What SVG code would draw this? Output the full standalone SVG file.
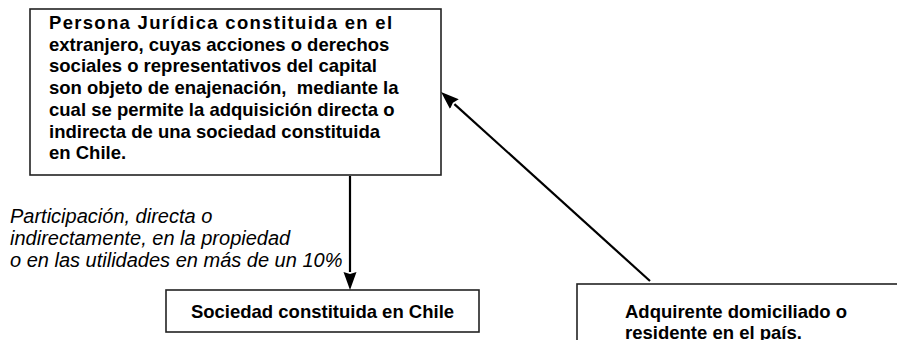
<svg xmlns="http://www.w3.org/2000/svg" width="897" height="340" viewBox="0 0 897 340">
<style>
  .box { fill: #ffffff; stroke: #222222; stroke-width: 1.6; }
  .bt { font-family: "Liberation Sans", Arial, sans-serif; font-size: 18.5px; font-weight: bold; fill: #000000; }
  .it { font-family: "Liberation Sans", Arial, sans-serif; font-size: 20px; font-style: italic; fill: #000000; }
  .conn { stroke: #000000; stroke-width: 2.2; fill: none; }
</style>
<defs>
  <marker id="ah" markerUnits="userSpaceOnUse" markerWidth="18" markerHeight="14" refX="0" refY="6.5" orient="auto" viewBox="0 0 18 13">
    <path d="M0,0 L18,6.5 L0,13 L2,6.5 z" fill="#000000"/>
  </marker>
</defs>
<rect x="0" y="0" width="897" height="340" fill="#ffffff"/>
<g id="persona-juridica">
  <rect class="box" x="30" y="9" width="411" height="166"/>
  <text class="bt" x="49" y="29" letter-spacing="1.3">Persona Jurídica constituida en el</text>
  <text class="bt" x="49" y="50.7">extranjero, cuyas acciones o derechos</text>
  <text class="bt" x="49" y="72.4">sociales o representativos del capital</text>
  <text class="bt" x="49" y="94.1" xml:space="preserve">son objeto de enajenación,  mediante la</text>
  <text class="bt" x="49" y="115.8">cual se permite la adquisición directa o</text>
  <text class="bt" x="49" y="137.5">indirecta de una sociedad constituida</text>
  <text class="bt" x="49" y="159.2">en Chile.</text>
</g>
<g id="sociedad-chile">
  <rect class="box" x="166" y="290" width="313" height="42"/>
  <text class="bt" x="322.5" y="317.5" text-anchor="middle">Sociedad constituida en Chile</text>
</g>
<g id="adquirente">
  <rect class="box" x="577" y="284" width="330" height="70"/>
  <text class="bt" x="625" y="318">Adquirente domiciliado o</text>
  <text class="bt" x="625" y="339">residente en el país.</text>
</g>
<g id="connectors">
  <line class="conn" x1="350" y1="176" x2="350" y2="272" marker-end="url(#ah)"/>
  <line class="conn" x1="650" y1="281" x2="454.4" y2="104.1" marker-end="url(#ah)"/>
  <g id="label-participacion">
    <text class="it" x="10" y="223">Participación, directa o</text>
    <text class="it" x="10" y="245">indirectamente, en la propiedad</text>
    <text class="it" x="10" y="267">o en las utilidades en más de un 10%</text>
  </g>
</g>
</svg>
